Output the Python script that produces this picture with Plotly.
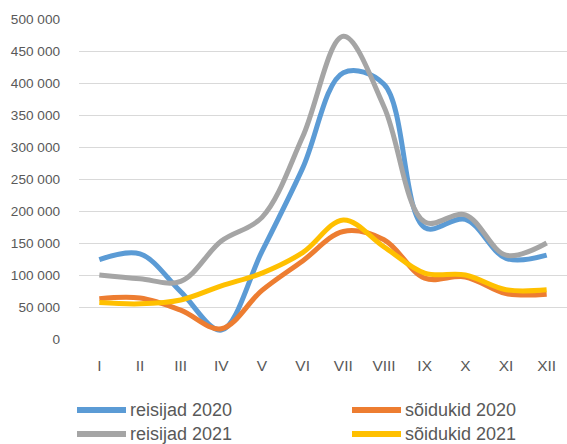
import plotly.graph_objects as go

months = ["I", "II", "III", "IV", "V", "VI", "VII", "VIII", "IX", "X", "XI", "XII"]
reisijad_2020 = [124000, 133000, 74000, 14000, 137000, 267000, 416000, 398000, 174000, 187000, 126000, 131000]
soidukid_2020 = [63000, 64000, 45000, 16000, 76000, 122000, 168000, 155000, 95000, 97000, 71000, 70000]
reisijad_2021 = [100000, 94000, 90000, 153000, 190000, 316000, 473000, 363000, 183000, 194000, 131000, 150000]
soidukid_2021 = [57000, 55000, 61000, 83000, 103000, 135000, 186000, 144000, 103000, 100000, 77000, 77000]
y_ticks = [0, 50000, 100000, 150000, 200000, 250000, 300000, 350000, 400000, 450000, 500000]

series = [
    ("reisijad 2020", reisijad_2020, "#5B9BD5"),
    ("sõidukid 2020", soidukid_2020, "#ED7D31"),
    ("reisijad 2021", reisijad_2021, "#A5A5A5"),
    ("sõidukid 2021", soidukid_2021, "#FFC000"),
]

W, H = 567, 444
ML, MR, MT, MB = 79, 0, 19, 105
PW, PH = W - ML - MR, H - MT - MB

fig = go.Figure()
for name, vals, color in series:
    fig.add_trace(go.Scatter(
        x=months, y=vals, name=name, mode="lines",
        line=dict(color=color, width=5, shape="spline", smoothing=1.0),
        showlegend=False,
    ))

font_family = "Liberation Sans, Arial, sans-serif"
label_color = "#595959"

# Legend drawn as key lines + text (two columns, two rows, as in the reference)
def px_x(px):
    return (px - ML) / PW

def px_y(py):
    return (H - MB - py) / PH

legend_slots = [(75, 410), (350, 410), (75, 434), (350, 434)]
for (name, vals, color), (lx, ly) in zip(series, legend_slots):
    fig.add_shape(type="line", xref="paper", yref="paper",
                  x0=px_x(lx + 2), x1=px_x(lx + 51), y0=px_y(ly), y1=px_y(ly),
                  line=dict(color=color, width=6))
    fig.add_annotation(xref="paper", yref="paper", x=px_x(lx + 54), y=px_y(ly),
                       xanchor="left", yanchor="middle", showarrow=False,
                       text=name, borderpad=0,
                       font=dict(size=18, color=label_color, family=font_family))

fig.update_layout(
    width=W, height=H,
    margin=dict(l=ML, r=MR, t=MT, b=MB),
    paper_bgcolor="white", plot_bgcolor="white",
    separators=", ",
    font=dict(family=font_family, color=label_color, size=13.6),
    showlegend=False,
)
fig.update_xaxes(
    type="category", range=[-0.5, 11.5], showgrid=False, showline=False, zeroline=False,
    ticks="", tickfont=dict(size=15.5, color=label_color),
    ticklabelstandoff=15,
)
fig.update_yaxes(
    range=[0, 500000], tickvals=y_ticks, tickformat=",d",
    showgrid=True, gridcolor="#D9D9D9", gridwidth=1,
    zeroline=False, showline=False, ticks="",
    tickfont=dict(size=13.6, color=label_color),
    ticklabelstandoff=18,
)

fig.write_html("out.html", config={"displayModeBar": False},
               post_script="document.body.style.margin='0';")
